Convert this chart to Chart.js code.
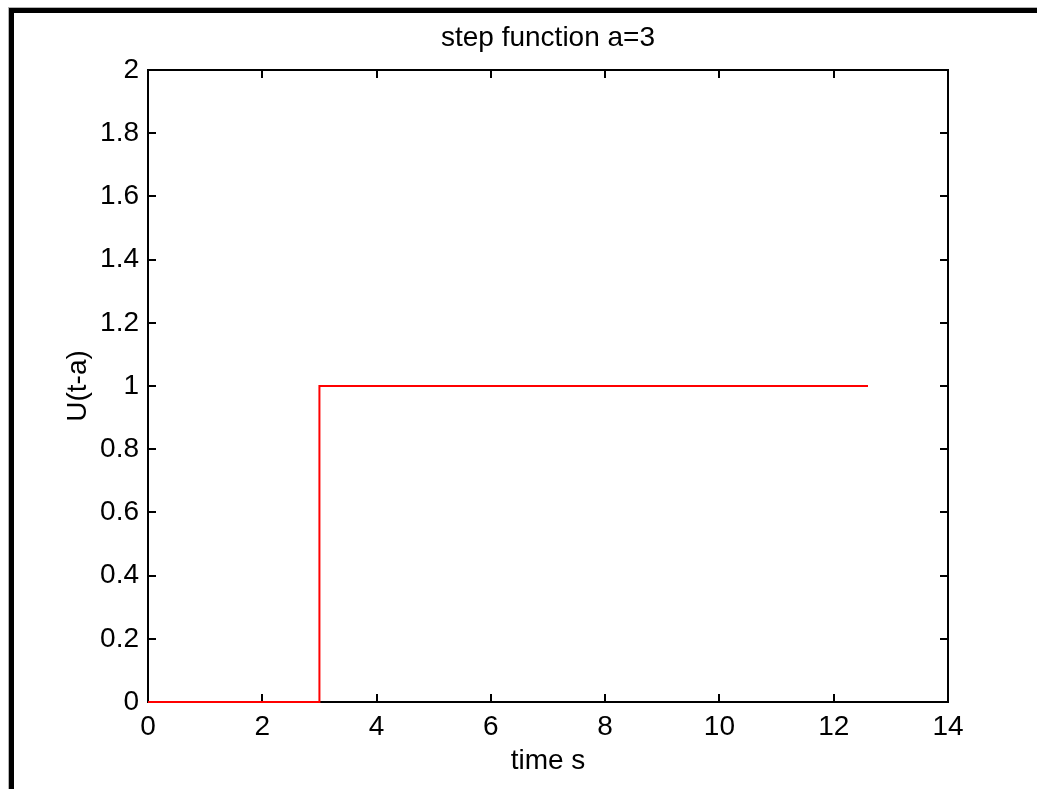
<!DOCTYPE html>
<html>
<head>
<meta charset="utf-8">
<title>step function a=3</title>
<script src="https://cdn.jsdelivr.net/npm/chart.js@4.4.1/dist/chart.umd.min.js"></script>
<style>
  html, body { margin: 0; padding: 0; background: #fff; }
  #wrap { width: 1037px; height: 789px; }
</style>
</head>
<body>
<div id="wrap"><canvas id="stepChart" width="1037" height="789"></canvas></div>
<script>
// step input U(t-a), a = 3
const timeValues = [0, 3, 3, 12.6];
const stepValues = [0, 0, 1, 1];
const xTicks = [0, 2, 4, 6, 8, 10, 12, 14];
const yTicks = [0, 0.2, 0.4, 0.6, 0.8, 1, 1.2, 1.4, 1.6, 1.8, 2];

const FONT = "'Liberation Sans', Arial, Helvetica, sans-serif";
const stepCanvas = document.getElementById("stepChart");

// figure frame (thick black edge at top/left) + matlab style box with inward ticks
const figureFrame = {
  id: "figureFrame",
  beforeDraw(chart) {
    const c = chart.ctx;
    c.save();
    c.fillStyle = "#fff";
    c.fillRect(0, 0, chart.width, chart.height);
    c.fillStyle = "#b4b4b4";
    c.fillRect(8, 7, chart.width - 8, 1);
    c.fillRect(8, 7, 1, chart.height - 7);
    c.fillStyle = "#000";
    c.fillRect(9, 8, chart.width - 9, 5);
    c.fillRect(9, 8, 5, chart.height - 8);
    c.restore();
  },
  beforeDatasetsDraw(chart) {
    const c = chart.ctx;
    const { left, right, top, bottom } = chart.chartArea;
    const xs = chart.scales.x;
    const ys = chart.scales.y;
    const len = 8;
    c.save();
    c.strokeStyle = "#000";
    c.lineWidth = 2;
    c.strokeRect(left, top, right - left, bottom - top);
    c.beginPath();
    xTicks.forEach((v) => {
      const px = Math.round(xs.getPixelForValue(v));
      c.moveTo(px, bottom);
      c.lineTo(px, bottom - len);
      c.moveTo(px, top);
      c.lineTo(px, top + len);
    });
    yTicks.forEach((v) => {
      const py = Math.round(ys.getPixelForValue(v));
      c.moveTo(left, py);
      c.lineTo(left + len, py);
      c.moveTo(right, py);
      c.lineTo(right - len, py);
    });
    c.stroke();
    c.restore();
  },
};

new Chart(stepCanvas, {
  type: "line",
  data: {
    datasets: [
      {
        data: timeValues.map((t, i) => ({ x: t, y: stepValues[i] })),
        borderColor: "rgb(255, 0, 0)",
        borderWidth: 2,
        pointRadius: 0,
        tension: 0,
        fill: false,
        clip: false,
      },
    ],
  },
  options: {
    responsive: false,
    animation: false,
    layout: {
      padding: { top: 0, left: 0, right: 89, bottom: 0 },
    },
    plugins: {
      legend: { display: false },
      tooltip: { enabled: false },
      title: {
        display: true,
        fullSize: false,
        text: "step function a=3",
        color: "#000",
        font: { family: FONT, size: 28, weight: "normal", lineHeight: 1.2 },
        padding: { top: 21, bottom: 15.4 },
      },
    },
    scales: {
      x: {
        type: "linear",
        min: 0,
        max: 14,
        afterFit(scale) {
          scale.height = 87;
        },
        afterBuildTicks(scale) {
          scale.ticks = xTicks.map((v) => ({ value: v }));
        },
        grid: { display: false, drawTicks: false },
        border: { display: false },
        ticks: {
          color: "#000",
          padding: 8,
          maxRotation: 0,
          autoSkip: false,
          font: { family: FONT, size: 28 },
        },
        title: {
          display: true,
          text: "time s",
          color: "#000",
          font: { family: FONT, size: 28, lineHeight: 1.2 },
          padding: { top: 0, bottom: 10.5 },
        },
      },
      y: {
        type: "linear",
        min: 0,
        max: 2,
        afterFit(scale) {
          scale.width = 148;
        },
        afterBuildTicks(scale) {
          scale.ticks = yTicks.map((v) => ({ value: v }));
        },
        grid: { display: false, drawTicks: false },
        border: { display: false },
        ticks: {
          color: "#000",
          padding: 9,
          autoSkip: false,
          font: { family: FONT, size: 28 },
          callback: (v) => String(Math.round(v * 10) / 10),
        },
        title: {
          display: true,
          text: "U(t-a)",
          color: "#000",
          font: { family: FONT, size: 28, lineHeight: 1.2 },
          padding: { top: 61.7, bottom: 0 },
        },
      },
    },
  },
  plugins: [figureFrame],
});
</script>
</body>
</html>
